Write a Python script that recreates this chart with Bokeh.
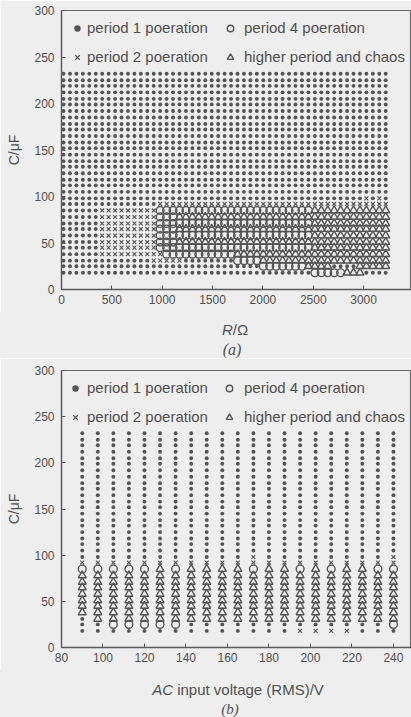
from bokeh.plotting import figure
from bokeh.models import Legend, LegendItem, Range1d, FixedTicker, Div
from bokeh.layouts import column
from bokeh.embed import file_html
from bokeh.resources import INLINE

# ---------------- data ----------------
# panel (a): sweep of load resistance R (ohm) and capacitance C (uF)
R_values = [20, 84, 148, 212, 276, 340, 404, 468, 532, 596,
            660, 724, 788, 852, 916, 980, 1044, 1108, 1172, 1236,
            1300, 1364, 1428, 1492, 1556, 1620, 1684, 1748, 1812, 1876,
            1940, 2004, 2068, 2132, 2196, 2260, 2324, 2388, 2452, 2516,
            2580, 2644, 2708, 2772, 2836, 2900, 2964, 3028, 3092, 3156, 3220]
C_values = [18, 25, 31, 38, 45, 51, 58, 65, 71, 78,
            85, 92, 98, 105, 112, 118, 125, 132, 138, 145,
            152, 158, 165, 172, 178, 185, 192, 199, 205, 212,
            219, 225, 232]
# panel (b): sweep of AC input voltage (V RMS)
V_values = [90, 97.5, 105, 112.5, 120, 127.5, 135, 142.5, 150, 157.5,
            165, 172.5, 180, 187.5, 195, 202.5, 210, 217.5, 225, 232.5, 240]

# operating mode, row by row (bottom row = C_values[0]),
# written as runs of (mode, number of columns)
# '.' period 1, 'x' period 2, 'o' period 4, '^' higher period and chaos
modes_a = [
    [(".", 39), ("o", 5), ("^", 3), (".", 4)],                      # 18
    [(".", 31), ("o", 7), ("^", 4), (".", 4), ("^", 5)],            # 25
    [(".", 14), ("x", 5), (".", 8), ("o", 4), ("^", 20)],           # 31
    [(".", 6), ("x", 10), ("o", 11), ("^", 24)],                    # 38
    [(".", 6), ("x", 9), ("o", 24), ("^", 12)],                     # 45
    [(".", 6), ("x", 9), ("o", 3), ("^", 33)],                      # 51
    [(".", 6), ("x", 9), ("o", 24), ("^", 12)],                     # 58
    [(".", 6), ("x", 9), ("o", 3), ("^", 33)],                      # 65
    [(".", 6), ("x", 9), ("o", 24), ("^", 12)],                     # 71
    [(".", 6), ("x", 9), ("o", 3), ("^", 33)],                      # 78
    [(".", 6), ("x", 9), ("o", 24), ("^", 12)],                     # 85
    [(".", 15), ("x", 36)],                                         # 92
    [(".", 47), ("x", 1), (".", 1), ("x", 1), (".", 1)],            # 98
] + [[(".", 51)]] * 20                                              # 105 .. 232

modes_b = [
    [(".", 14), ("x", 4), (".", 3)],                                # 18
    [(".", 2), ("o", 5), (".", 13), ("o", 1)],                      # 25
    [(".", 1), ("^", 20)],                                          # 31
    [("^", 21)], [("^", 21)], [("^", 21)], [("^", 21)],             # 38 .. 58
    [("^", 21)], [("^", 21)], [("^", 21)],                          # 65 .. 78
    [("o", 5), ("^", 1), ("o", 1), ("^", 4), ("o", 1), ("^", 2),
     ("o", 1), ("^", 1), ("o", 1), ("^", 2), ("o", 2)],             # 85
    [("x", 21)],                                                    # 92
    [(".", 11), ("x", 1), (".", 8), ("x", 1)],                      # 98
] + [[(".", 21)]] * 20                                              # 105 .. 232

x_ticks_a = [0, 500, 1000, 1500, 2000, 2500, 3000]
x_ticks_b = [80, 100, 120, 140, 160, 180, 200, 220, 240]
y_ticks = [0, 50, 100, 150, 200, 250, 300]
legend_labels = {".": "period 1 poeration", "x": "period 2 poeration",
                 "o": "period 4 poeration", "^": "higher period and chaos"}

# ---------------- style ----------------
FONT = "Liberation Sans"
INK = "#505050"
MARK = "#545454"
BG = "#eeeeee"
W = 411


def split_modes(xs, ys, runs_rows):
    pts = {k: ([], []) for k in legend_labels}
    for y, runs in zip(ys, runs_rows):
        row = "".join(code * n for code, n in runs)
        assert len(row) == len(xs)
        for x, code in zip(xs, row):
            pts[code][0].append(x)
            pts[code][1].append(y)
    return pts


def make_panel(xs, runs_rows, x_start, x_end, x_ticks, height, mb_left, mb_top, mb_bottom,
               leg1_loc, leg1_stand, leg2_loc, leg2_stand):
    p = figure(width=W, height=height, output_backend="svg", toolbar_location=None,
               x_range=Range1d(x_start, x_end), y_range=Range1d(0, 300),
               min_border_left=mb_left, min_border_right=0,
               min_border_top=mb_top, min_border_bottom=mb_bottom)
    p.background_fill_color = BG
    p.border_fill_color = BG
    p.outline_line_color = "#6a6a6a"
    p.outline_line_width = 1.2
    p.xgrid.visible = False
    p.ygrid.visible = False

    pts = split_modes(xs, C_values, runs_rows)
    r = {}
    r["."] = p.scatter(x=pts["."][0], y=pts["."][1], marker="circle", size=3.9,
                       fill_color=MARK, line_color=None)
    r["x"] = p.scatter(x=pts["x"][0], y=pts["x"][1], marker="x", size=5.5,
                       line_color=MARK, line_width=1.1)
    r["o"] = p.scatter(x=pts["o"][0], y=pts["o"][1], marker="circle", size=7.8,
                       fill_color=None, line_color=MARK, line_width=1.4)
    r["^"] = p.scatter(x=pts["^"][0], y=pts["^"][1], marker="triangle", size=8,
                       fill_color=None, line_color=MARK, line_width=1.4)

    for codes, loc, stand in ((".x", leg1_loc, leg1_stand), ("o^", leg2_loc, leg2_stand)):
        leg = Legend(items=[LegendItem(label=legend_labels[c], renderers=[r[c]]) for c in codes],
                     location=loc, orientation="vertical", padding=0, margin=0, spacing=12,
                     glyph_width=16, glyph_height=16, label_height=16, label_standoff=stand,
                     label_text_font=FONT, label_text_font_size="15px", label_text_color=INK,
                     background_fill_alpha=0, border_line_alpha=0)
        p.add_layout(leg)

    for ax in (p.xaxis[0], p.yaxis[0]):
        ax.axis_line_color = "#5a5a5a"
        ax.axis_line_width = 1.3
        ax.major_tick_line_color = "#5a5a5a"
        ax.major_tick_in = 4
        ax.major_tick_out = 0
        ax.minor_tick_line_color = None
        ax.major_label_text_font = FONT
        ax.major_label_text_font_size = "12px"
        ax.major_label_text_color = INK
    p.xaxis.ticker = FixedTicker(ticks=x_ticks)
    p.yaxis.ticker = FixedTicker(ticks=y_ticks)
    p.xaxis.major_label_standoff = 5
    p.yaxis.major_label_standoff = 7
    p.yaxis.axis_label = "C/\u03bcF"
    p.yaxis.axis_label_standoff = 9
    p.yaxis.axis_label_text_font = FONT
    p.yaxis.axis_label_text_font_size = "14px"
    p.yaxis.axis_label_text_font_style = "normal"
    p.yaxis.axis_label_text_color = INK
    return p


def caption(height, parts):
    spans = []
    for left, top, html, font, size, style in parts:
        spans.append(
            f'<div style="position:absolute;left:{left}px;top:{top}px;'
            f'transform:translate(-50%,-50%);white-space:nowrap;font-family:\'{font}\';'
            f'font-size:{size}px;font-style:{style};color:{INK};line-height:1">{html}</div>')
    html = (f'<div style="position:absolute;left:0;top:0;width:{W}px;height:{height}px;'
            f'overflow:hidden;background:{BG}">' + "".join(spans) + '</div>')
    return Div(text=html, width=W, height=height, margin=0,
               styles={"overflow": "hidden", "position": "relative"})


p_a = make_panel(R_values, modes_a, 0, 3476, x_ticks_a, 312, 61, 10, 23,
                 (8, 224), 2, (161, 224), 6)
div_a = caption(46, [(235, 17, "<i>R</i>/\u03a9", FONT, 15, "normal"),
                     (232, 38, "(a)", "Liberation Serif", 16, "italic")])
p_b = make_panel(V_values, modes_b, 80, 248.7, x_ticks_b, 312, 60, 12, 23,
                 (6, 222), 4, (160, 222), 7)
div_b = caption(47, [(238, 19, "<i>AC</i> input voltage (RMS)/V", FONT, 15, "normal"),
                     (230, 39, "(b)", "Liberation Serif", 15, "italic")])

layout = column(p_a, div_a, p_b, div_b, spacing=0)
open("out.html", "w").write(file_html(layout, INLINE))
